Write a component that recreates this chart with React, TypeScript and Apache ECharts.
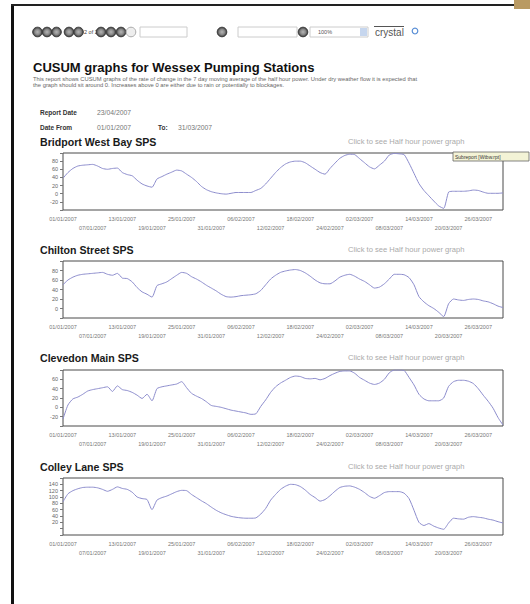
import React, { useEffect, useRef } from "react";
import * as echarts from "echarts";

// ---------- data ----------
const monthDays: [string, number][] = [["01", 31], ["02", 28], ["03", 31]];
const dates: string[] = [];
monthDays.forEach(([m, n]) => {
  for (let d = 1; d <= n; d++) dates.push(`${String(d).padStart(2, "0")}/${m}/2007`);
});

const stationNames = ["Bridport West Bay SPS", "Chilton Street SPS", "Clevedon Main SPS", "Colley Lane SPS"];

const bridport = [
  38, 52, 62, 68, 70, 71, 72, 68, 62, 60, 62, 63, 52, 47, 44, 33, 24, 19, 16, 36,
  42, 48, 53, 58, 56, 48, 40, 30, 18, 10, 5, 2, 0, -1, 1, 3, 3, 3, 3, 8,
  13, 24, 38, 52, 64, 73, 78, 80, 80, 76, 68, 60, 52, 48, 62, 75, 87, 94, 97, 96,
  86, 76, 66, 61, 70, 80, 95, 99, 98, 96, 75, 50, 25, 8, -5, -18, -30, -36, 4, 6,
  6, 6, 7, 9, 8, 4, 1, 1, 1, 2,
];
const chilton = [
  50, 60, 66, 70, 72, 73, 74, 75, 76, 72, 70, 74, 64, 63, 56, 44, 35, 30, 24, 48,
  52, 56, 63, 70, 76, 74, 67, 62, 56, 49, 43, 37, 30, 25, 24, 25, 27, 28, 29, 31,
  38, 50, 62, 70, 76, 79, 81, 82, 80, 75, 68, 60, 54, 52, 52, 58, 66, 70, 72, 68,
  62, 57, 50, 43, 45, 52, 62, 72, 72, 71, 65, 50, 25, 14, 6, 0, -8, -17, 10, 20,
  18, 17, 19, 20, 19, 16, 14, 10, 5, 2,
];
const clevedon = [
  -25, 5, 18, 22, 28, 35, 38, 40, 42, 44, 34, 46, 38, 36, 32, 26, 19, 28, 14, 40,
  44, 46, 48, 50, 55, 42, 30, 24, 19, 12, 4, 2, 0, -3, -6, -8, -10, -12, -15, -14,
  2, 16, 32, 44, 52, 58, 64, 67, 66, 62, 61, 62, 59, 62, 68, 73, 77, 78, 78, 73,
  64, 58, 52, 49, 52, 60, 74, 80, 80, 79, 64, 48, 28, 18, 14, 14, 14, 20, 45, 55,
  58, 58, 56, 51, 40, 26, 13, -2, -22, -38,
];
const colley = [
  85, 110, 120, 126, 130, 131, 131, 129, 124, 118, 124, 132, 127, 124, 115, 100, 95, 92, 60, 90,
  98, 103, 110, 117, 121, 120, 108, 98, 88, 79, 68, 58, 50, 44, 39, 36, 34, 33, 33, 34,
  46, 64, 90, 108, 124, 134, 140, 139, 133, 122, 108, 98, 87, 92, 104, 118, 130, 134, 135, 131,
  124, 114, 102, 96, 104, 114, 117, 117, 117, 112, 95, 58, 20, 10, 16, 8, 2, -2, 18, 33,
  31, 30, 36, 38, 36, 34, 30, 27, 22, 18,
];
const seriesData = [bridport, chilton, clevedon, colley];
const yMins = [-40, -20, -40, -20];
const yMaxs = [100, 100, 80, 160];
const labelMins = [-20, 0, -20, 20];
const labelMaxs = [80, 80, 60, 140];

// ---------- layout ----------
const gridTops = [153, 261, 370, 478];
const gridHeights = [57, 57, 56, 57];
const titleYs = [142, 250, 358, 467];
const FONT = "'Liberation Sans', Arial, sans-serif";

export default function App() {
  const ref = useRef<HTMLDivElement>(null);
  useEffect(() => {
    if (!ref.current) return;
    const chart = echarts.init(ref.current, null, { renderer: "svg" });

    const grids = gridTops.map((t, i) => ({
      left: 63, top: t, width: 440, height: gridHeights[i],
      show: true, borderColor: "#4a4a4a", borderWidth: 1, backgroundColor: "transparent",
    }));
    const xAxes = gridTops.map((_, i) => ({
      type: "category", gridIndex: i, data: dates, boundaryGap: false,
      axisLine: { show: false }, axisTick: { show: false }, splitLine: { show: false },
      axisLabel: {
        interval: (idx: number) => idx % 6 === 0,
        formatter: (v: string, idx: number) => (idx % 12 === 6 ? "\n" + v : v),
        fontSize: 5.5, lineHeight: 9, color: "#777", margin: 4, fontFamily: FONT,
      },
    }));
    const yAxes = gridTops.map((_, i) => ({
      type: "value", gridIndex: i, min: yMins[i], max: yMaxs[i], interval: 20,
      axisLine: { show: false }, splitLine: { show: false },
      axisTick: { show: true, length: 3, lineStyle: { color: "#777" } },
      axisLabel: {
        fontSize: 5.5, color: "#666", margin: 5, fontFamily: FONT,
        formatter: (v: number) => (v < labelMins[i] || v > labelMaxs[i] ? "" : String(v)),
      },
    }));
    const series = seriesData.map((d, i) => ({
      type: "line", xAxisIndex: i, yAxisIndex: i, data: d, showSymbol: false,
      smooth: 0.2, silent: true, lineStyle: { color: "#8c8ccc", width: 1 },
    }));

    const txt = (x: number, y: number, text: string, size: number, fill: string, weight = "normal", align = "left") => ({
      type: "text", x, y, silent: true,
      style: {
        text, fill, fontSize: size, fontWeight: weight, fontFamily: FONT,
        textAlign: align, textVerticalAlign: "middle", align, verticalAlign: "middle",
      },
    });
    const btn = (cx: number, light = false) => ({
      type: "circle", shape: { cx, cy: 32, r: 4.8 },
      style: light
        ? { fill: "#ededed", stroke: "#aaa", lineWidth: 1 }
        : {
            fill: new echarts.graphic.RadialGradient(0.5, 0.5, 0.5, [
              { offset: 0, color: "#b5b5b5" }, { offset: 0.55, color: "#8a8a8a" }, { offset: 1, color: "#3c3c3c" },
            ]),
            stroke: "#3a3a3a", lineWidth: 1,
          },
    });

    const graphics: any[] = [
      // frame
      { type: "rect", shape: { x: 11, y: 4, width: 3, height: 600 }, style: { fill: "#111" } },
      { type: "rect", shape: { x: 11, y: 4, width: 519, height: 2 }, style: { fill: "#222" } },
      { type: "rect", shape: { x: 514, y: 0, width: 16, height: 9 }, style: { fill: "#b99a63" } },
      // toolbar
      btn(37.5), btn(47), btn(56.5), btn(69), btn(78.5),
      txt(84, 32, "2 of 2", 5.5, "#444"),
      btn(101), btn(111), btn(121), btn(131, true),
      { type: "rect", shape: { x: 140, y: 27, width: 47, height: 10 }, style: { fill: "#fff", stroke: "#ccc", lineWidth: 1 } },
      btn(222),
      { type: "rect", shape: { x: 238, y: 27, width: 59, height: 10 }, style: { fill: "#fff", stroke: "#ccc", lineWidth: 1 } },
      btn(303),
      { type: "rect", shape: { x: 310, y: 27, width: 58, height: 10 }, style: { fill: "#fff", stroke: "#ccc", lineWidth: 1 } },
      txt(318, 32, "100%", 5.5, "#555"),
      { type: "rect", shape: { x: 360, y: 28, width: 7, height: 8 }, style: { fill: "#c6d6ee" } },
      { type: "line", shape: { x1: 374, y1: 26.5, x2: 404, y2: 26.5 }, style: { stroke: "#555", lineWidth: 1 } },
      txt(375, 32, "crystal", 10, "#555"),
      { type: "circle", shape: { cx: 415, cy: 31, r: 2.8 }, style: { fill: "none", stroke: "#5a8fd6", lineWidth: 1.2 } },
      // headings
      txt(33, 67.5, "CUSUM graphs for Wessex Pumping Stations", 13, "#111", "bold"),
      txt(33, 78.5, "This report shows CUSUM graphs of the rate of change in the 7 day moving average of the half hour power. Under dry weather flow it is expected that", 5.8, "#666"),
      txt(33, 84.5, "the graph should sit around 0. Increases above 0 are either due to rain or potentially to blockages.", 5.8, "#666"),
      txt(40, 112, "Report Date", 6.5, "#333", "bold"),
      txt(97, 112, "23/04/2007", 6.8, "#777"),
      txt(40, 127, "Date From", 6.5, "#333", "bold"),
      txt(97, 127, "01/01/2007", 6.8, "#777"),
      txt(158, 127, "To:", 6.5, "#333", "bold"),
      txt(178, 127, "31/03/2007", 6.8, "#777"),
      // tooltip box
      { type: "rect", shape: { x: 453, y: 152, width: 76, height: 9 }, style: { fill: "#f3f3d6", stroke: "#666", lineWidth: 0.8 }, z: 100 },
      { ...txt(455, 156.5, "Subreport [Wtbw.rpt]", 5, "#333"), z: 101 },
    ];
    stationNames.forEach((name, i) => {
      graphics.push(txt(40, titleYs[i], name, 10.6, "#1a1a1a", "bold"));
      graphics.push(txt(348, titleYs[i] - 1, "Click to see Half hour power graph", 7.6, "#aaa"));
    });

    chart.setOption({
      animation: false,
      backgroundColor: "#fff",
      grid: grids,
      xAxis: xAxes,
      yAxis: yAxes,
      series,
      graphic: graphics,
    });
    return () => chart.dispose();
  }, []);
  return <div ref={ref} style={{ position: "absolute", left: 0, top: 0, width: 530, height: 604 }} />;
}
